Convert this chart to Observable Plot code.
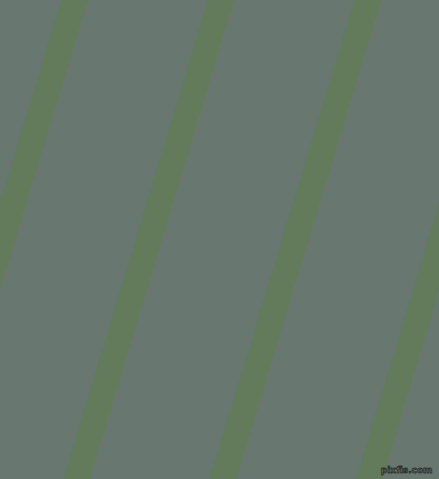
<!DOCTYPE html>
<html>
<head>
<meta charset="utf-8">
<script src="https://cdn.jsdelivr.net/npm/d3@7"></script>
<script src="https://cdn.jsdelivr.net/npm/@observablehq/plot@0.6"></script>
<style>
  html, body { margin: 0; padding: 0; background: #687870; overflow: hidden; }
  svg { display: block; }
</style>
</head>
<body>
<div id="chart"></div>
<script>
// Stripe edges (x at top y=0 and bottom y=479)
const stripeIds   = [0, 1, 2, 3, 4];
const topLeft     = [-85.5, 61, 207.7, 354, 500.5];
const topRight    = [-59, 87.7, 234, 381, 527];
const bottomLeft  = [-230, -84, 63, 209.3, 355.7];
const bottomRight = [-203.5, -57.5, 89.5, 236, 382];
const yTop = 0, yBottom = 479;
const watermark = ["pixfis.com"];

const rows = [];
stripeIds.forEach((id, i) => {
  rows.push({id, y: yTop, x1: topLeft[i], x2: topRight[i]});
  rows.push({id, y: yBottom, x1: bottomLeft[i], x2: bottomRight[i]});
});

const chart = Plot.plot({
  width: 439,
  height: 479,
  margin: 0,
  x: {domain: [0, 439], range: [0, 439], axis: null},
  y: {domain: [0, 479], range: [0, 479], axis: null},
  style: {background: "#687870"},
  marks: [
    Plot.areaX(rows, {y: "y", x1: "x1", x2: "x2", z: "id", fill: "#637b5a", clip: true}),
    Plot.text(watermark, {x: () => 432, y: () => 472, text: d => d, textAnchor: "end",
      fontSize: 9, fontFamily: "DejaVu Sans", fontWeight: "bold",
      fill: "#6e7a72", stroke: "#2f3430", strokeWidth: 0.9, paintOrder: "fill", lineAnchor: "bottom"})
  ]
});
document.getElementById("chart").appendChild(chart);
</script>
</body>
</html>
